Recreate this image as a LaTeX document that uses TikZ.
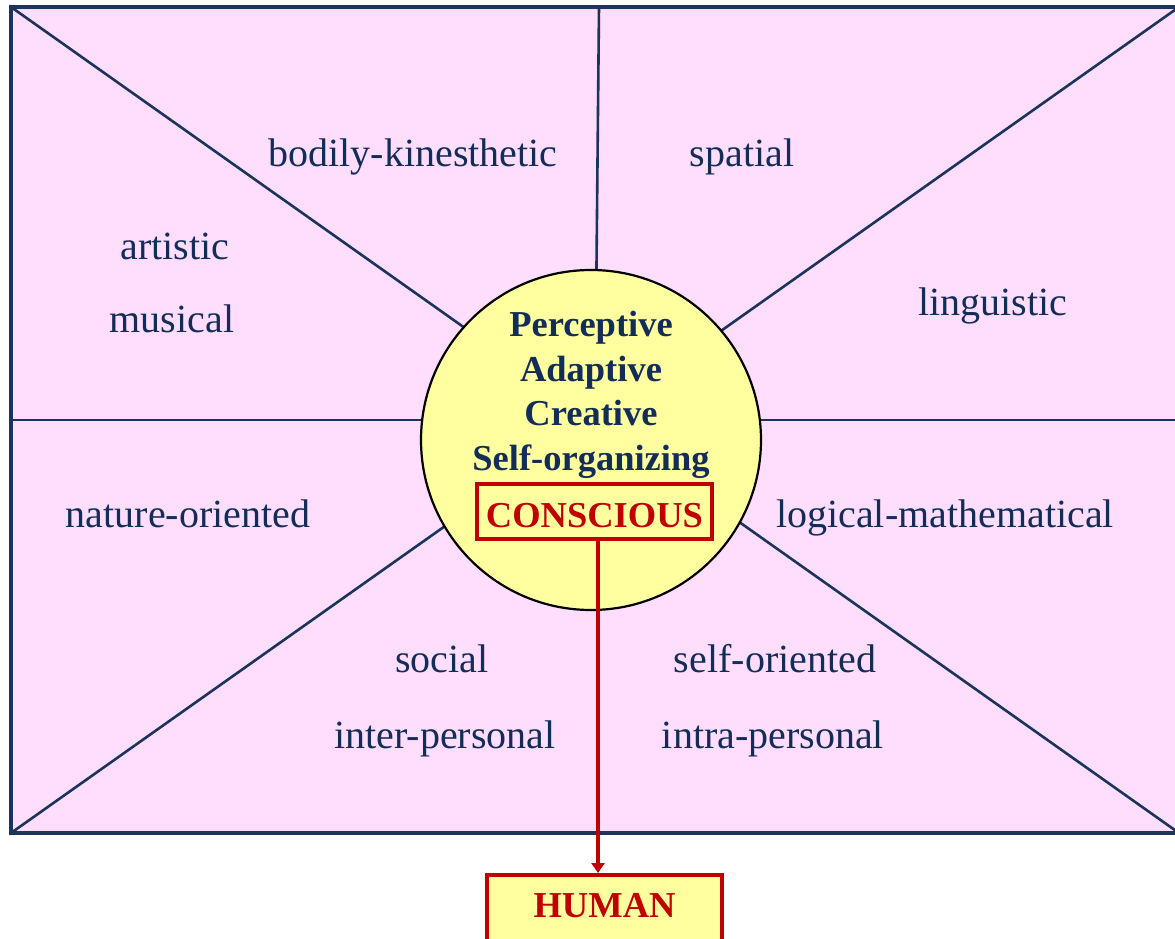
\documentclass[tikz,border=0pt]{standalone}
\usepackage{fontspec}
\setmainfont{Liberation Serif}
\usetikzlibrary{arrows.meta}
\definecolor{pinkfill}{RGB}{255,221,252}
\definecolor{navy}{RGB}{28,52,92}
\definecolor{txtblue}{RGB}{20,45,88}
\definecolor{yel}{RGB}{255,255,160}
\definecolor{darkred}{RGB}{192,0,0}
\tikzset{
  divline/.style={draw=navy, line width=2.6pt},
  lbl/.style={anchor=base, inner sep=0pt, text=txtblue, font=\fontsize{40}{48}\selectfont},
  blbl/.style={anchor=base, inner sep=0pt, text=txtblue, font=\fontsize{36.5}{44}\selectfont\bfseries},
  redbox/.style={draw=darkred, line width=4pt, inner sep=0pt},
}
\begin{document}
\begin{tikzpicture}[x=1pt,y=-1pt]
\useasboundingbox (0,0) rectangle (1175,939);
\clip (0,0) rectangle (1175,939);
\fill[white] (0,0) rectangle (1175,939);
% outer rectangle
\coordinate (tl) at (11,7);
\coordinate (tr) at (1179,7);
\coordinate (bl) at (11,833);
\coordinate (br) at (1179,833);
\coordinate (c) at (595,420);
\coordinate (tm) at (599,7);
\coordinate (lm) at (11,420);
\coordinate (rm) at (1179,420);
\fill[pinkfill] (tl) rectangle (br);
\draw[divline] (tl) -- (c);
\draw[divline] (tr) -- (c);
\draw[divline] (bl) -- (c);
\draw[divline] (br) -- (c);
\draw[divline] (tm) -- (c);
\draw[divline] (lm) -- (rm);
\draw[draw=navy, line width=3.6pt] (tl) rectangle (br);
% circle
\node[circle, draw=black, line width=2.2pt, fill=yel, minimum size=340pt, inner sep=0pt] (core) at (591,440) {};
% labels
\node[lbl] (bk) at (413,167) {bodily-kinesthetic};
\node[lbl] (sp) at (742,167) {spatial};
\node[lbl] (ar) at (175,259) {artistic};
\node[lbl] (mu) at (172,332) {musical};
\node[lbl] (li) at (993,315) {linguistic};
\node[lbl] (na) at (188,527) {nature-oriented};
\node[lbl] (lo) at (945,527) {logical-mathematical};
\node[lbl] (so) at (442,672) {social};
\node[lbl] (ip) at (445,748) {inter-personal};
\node[lbl] (se) at (775,672) {self-oriented};
\node[lbl] (ia) at (773,748) {intra-personal};
% core texts
\node[blbl] (pe) at (591,336) {Perceptive};
\node[blbl] (ad) at (591,381) {Adaptive};
\node[blbl] (cr) at (591,425) {Creative};
\node[blbl] (sf) at (591,470) {Self-organizing};
\node[redbox, minimum width=235pt, minimum height=55pt] (conbox) at (594.5,511.5) {};
\node[anchor=base, inner sep=0pt, text=darkred, font=\fontsize{36.5}{44}\selectfont\bfseries] (con) at (594.5,527) {CONSCIOUS};
% human
\node[redbox, fill=yel, minimum width=235pt, minimum height=80pt] (hubox) at (604.5,915) {};
\node[anchor=base, inner sep=0pt, text=darkred, font=\fontsize{36.5}{44}\selectfont\bfseries] (hu) at (604.5,917) {HUMAN};
\draw[darkred, line width=4.5pt, -{Triangle[length=10pt,width=13pt]}] (conbox.south -| 598,0) -- (hubox.north -| 598,0);
\end{tikzpicture}
\end{document}
